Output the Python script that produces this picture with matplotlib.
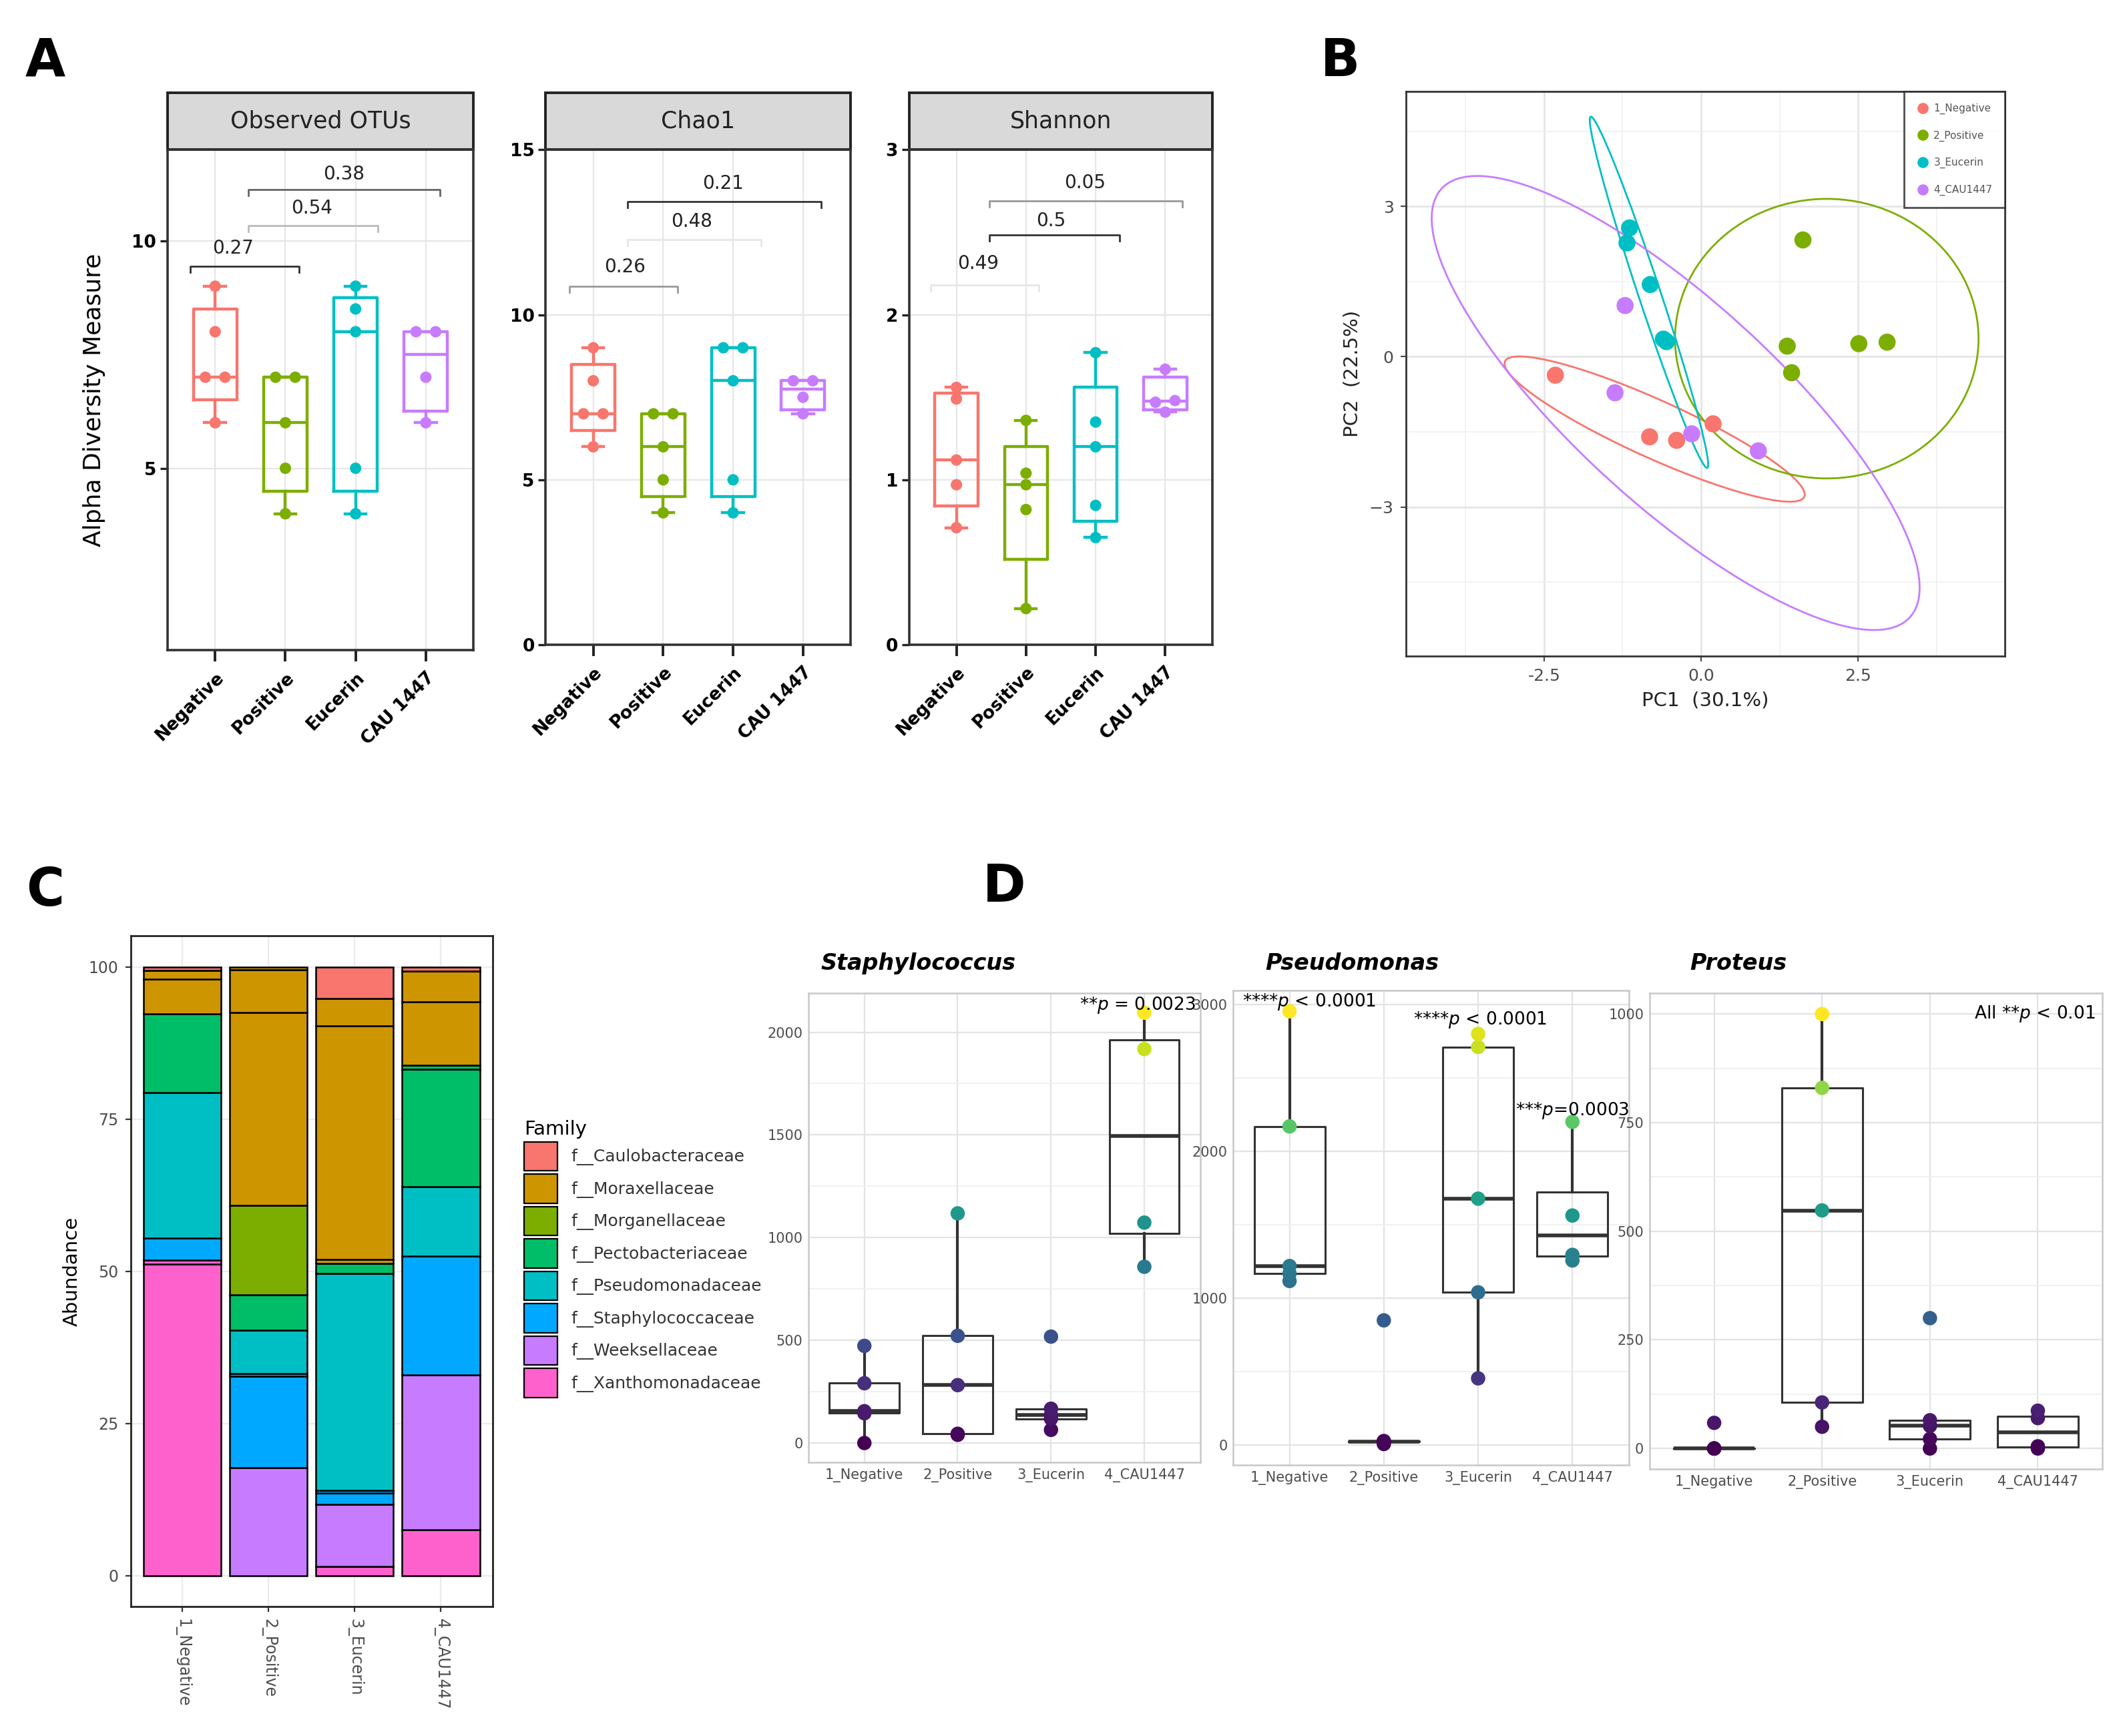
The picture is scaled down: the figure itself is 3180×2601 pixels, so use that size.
import numpy as np
import matplotlib.pyplot as plt
from matplotlib.patches import Ellipse, Rectangle, Patch
from matplotlib.lines import Line2D

# ---------------- data ----------------
groups_a = ['Negative', 'Positive', 'Eucerin', 'CAU 1447']
hue4 = ['#F8766D', '#7CAE00', '#00BFC4', '#C77CFF']

obs_otus = [[6, 7, 7, 8, 9], [4, 5, 6, 7, 7], [4, 5, 8, 8.5, 9], [6, 7, 8, 8]]
chao1 = [[6, 7, 7, 8, 9], [4, 5, 6, 7, 7], [4, 5, 8, 9, 9], [7, 7.5, 8, 8]]
shannon = [[0.71, 0.97, 1.12, 1.49, 1.56], [0.22, 0.82, 0.97, 1.04, 1.36],
           [0.65, 0.845, 1.20, 1.35, 1.77], [1.41, 1.47, 1.48, 1.67]]

# PCA scores
pca_groups = ['1_Negative', '2_Positive', '3_Eucerin', '4_CAU1447']
neg_pc1 = [-2.32, -0.82, -0.39, 0.19]
neg_pc2 = [-0.37, -1.60, -1.67, -1.34]
pos_pc1 = [1.62, 1.37, 1.44, 2.51, 2.96]
pos_pc2 = [2.33, 0.21, -0.32, 0.26, 0.29]
euc_pc1 = [-1.14, -1.18, -0.81, -0.60, -0.55]
euc_pc2 = [2.57, 2.27, 1.44, 0.35, 0.30]
cau_pc1 = [-1.21, -1.37, -0.15, 0.91]
cau_pc2 = [1.02, -0.72, -1.54, -1.88]
# confidence ellipses (center x, center y, semi-major, semi-minor, angle)
ell_cx = [-0.74, 2.0, -0.83, -0.405]
ell_cy = [-1.445, 0.36, 1.285, -0.925]
ell_a = [2.74, 2.79, 3.625, 5.69]
ell_b = [0.55, 2.415, 0.18, 1.8]
ell_ang = [-30, 90, -75.2, 129.6]

# family abundance (segments from bottom to top)
families = ['f__Caulobacteraceae', 'f__Moraxellaceae', 'f__Morganellaceae',
            'f__Pectobacteriaceae', 'f__Pseudomonadaceae', 'f__Staphylococcaceae',
            'f__Weeksellaceae', 'f__Xanthomonadaceae']
fam_colors = ['#F8766D', '#CD9600', '#7CAE00', '#00BE67', '#00BFC4', '#00A9FF',
              '#C77CFF', '#FF61CC']
samples_c = ['1_Negative', '2_Positive', '3_Eucerin', '4_CAU1447']
neg_fam = [7, 7, 5, 4, 3, 1, 1, 0]
neg_val = [51.2, 0.7, 3.6, 23.9, 12.9, 5.7, 1.4, 0.6]
pos_fam = [6, 5, 5, 4, 3, 2, 1, 1, 1]
pos_val = [17.8, 15.0, 0.4, 7.1, 5.9, 14.6, 31.7, 7.1, 0.4]
euc_fam = [7, 6, 5, 5, 4, 3, 1, 1, 1, 0]
euc_val = [1.5, 10.2, 1.9, 0.4, 35.7, 1.6, 0.7, 38.3, 4.5, 5.2]
cau_fam = [7, 6, 5, 4, 3, 3, 1, 1, 0]
cau_val = [7.5, 25.5, 19.5, 11.4, 19.3, 0.7, 10.4, 5.0, 0.7]

# genus counts
groups_d = ['1_Negative', '2_Positive', '3_Eucerin', '4_CAU1447']
staph = [[0, 145, 155, 291, 473], [40, 45, 282, 522, 1118],
         [64, 118, 136, 167, 518], [858, 1073, 1918, 2095]]
pseudo = [[1115, 1166, 1217, 2168, 2952], [5, 20, 23, 25, 847],
          [452, 1038, 1676, 2709, 2798], [1255, 1293, 1561, 2199]]
proteus = [[0, 0, 0, 0, 59], [50, 106, 548, 830, 1000],
           [0, 22, 52, 65, 300], [0, 5, 70, 87]]


# ---------------- helpers ----------------
W, H = 1560, 1276


def rect(x0, y0, x1, y1):
    return [x0 / W, 1 - y1 / H, (x1 - x0) / W, (y1 - y0) / H]


def box_stats(vals, method):
    v = np.sort(np.array(vals, float))
    q1, med, q3 = np.percentile(v, [25, 50, 75], method=method)
    iqr = q3 - q1
    lo = v[v >= q1 - 1.5 * iqr].min()
    hi = v[v <= q3 + 1.5 * iqr].max()
    return dict(q1=q1, med=med, q3=q3, whislo=lo, whishi=hi, fliers=[])


def spread(vals, tol):
    vals = np.array(vals, float)
    offs = np.zeros(len(vals))
    done = np.zeros(len(vals), bool)
    for i in range(len(vals)):
        if done[i]:
            continue
        idx = [j for j in range(len(vals)) if not done[j] and abs(vals[j] - vals[i]) <= tol]
        for j in idx:
            done[j] = True
        if len(idx) > 1:
            offs[idx] = np.linspace(-0.14, 0.14, len(idx))
    return offs


fig = plt.figure(figsize=(15.9, 13.005), dpi=200)

# ---------------- panel A ----------------
def alpha_panel(ax, data, ylim, yticks, title, brackets):
    for i, vals in enumerate(data):
        st = box_stats(vals, 'weibull')
        c = hue4[i]
        ax.bxp([st], positions=[i + 1], widths=0.62, capwidths=0.3, showfliers=False,
               boxprops=dict(color=c, lw=1.6), medianprops=dict(color=c, lw=1.6),
               whiskerprops=dict(color=c, lw=1.6), capprops=dict(color=c, lw=1.6))
        offs = spread(vals, 0.015 * (ylim[1] - ylim[0]))
        ax.scatter(np.full(len(vals), i + 1.0) + offs, vals, s=38, color=c, zorder=3,
                   edgecolors='none')
    h = 0.012 * (ylim[1] - ylim[0])
    for x0, x1, y, lab, col, lx, ly in brackets:
        ax.plot([x0, x0, x1, x1], [y - h, y, y, y - h], color=col, lw=1.0)
        ax.text(lx, ly, lab, ha='center', va='center', fontsize=10, color='#222222')
    ax.set_xlim(0.32, 4.68)
    ax.set_ylim(*ylim)
    ax.set_yticks(yticks)
    ax.set_yticklabels([str(t) for t in yticks], fontweight='bold', fontsize=9.5)
    ax.set_xticks([1, 2, 3, 4])
    ax.set_xticklabels(groups_a, rotation=45, ha='right', rotation_mode='anchor',
                       fontweight='bold', fontsize=9.5)
    ax.tick_params(axis='x', length=6, width=1.4, color='#222222', pad=4)
    ax.tick_params(axis='y', length=4, width=1.2, color='#222222', pad=2)
    ax.grid(True, color='#E6E6E6', lw=0.8)
    ax.set_axisbelow(True)
    for s in ax.spines.values():
        s.set_color('#333333')
        s.set_linewidth(1.3)
    sh = 42 / ((ax.get_position().height) * H)
    ax.add_patch(Rectangle((0, 1), 1, sh, transform=ax.transAxes, clip_on=False,
                           facecolor='#D9D9D9', edgecolor='#222222', lw=1.4))
    ax.text(0.5, 1 + sh / 2, title, transform=ax.transAxes, ha='center', va='center',
            fontsize=12.5, color='#222222')


ax_obs = fig.add_axes(rect(123, 110, 348, 478))
alpha_panel(ax_obs, obs_otus, (1, 12), [5, 10], 'Observed OTUs',
            [(0.65, 2.2, 9.44, '0.27', '#333333', 1.25, 9.83),
             (1.47, 3.32, 10.33, '0.54', '#BBBBBB', 2.38, 10.72),
             (1.47, 4.2, 11.13, '0.38', '#666666', 2.83, 11.46)])
ax_obs.set_ylabel('Alpha Diversity Measure', fontsize=13, labelpad=14)

ax_chao = fig.add_axes(rect(401, 110, 625, 474))
alpha_panel(ax_chao, chao1, (0, 15), [0, 5, 10, 15], 'Chao1',
            [(0.66, 2.21, 10.86, '0.26', '#999999', 1.45, 11.44),
             (1.49, 3.4, 12.27, '0.48', '#E6E6E6', 2.41, 12.82),
             (1.49, 4.26, 13.43, '0.21', '#333333', 2.86, 13.98)])

ax_sha = fig.add_axes(rect(668, 110, 891, 474))
alpha_panel(ax_sha, shannon, (0, 3), [0, 1, 2, 3], 'Shannon',
            [(0.63, 2.18, 2.18, '0.49', '#E6E6E6', 1.31, 2.31),
             (1.47, 3.34, 2.485, '0.5', '#333333', 2.36, 2.57),
             (1.47, 4.25, 2.69, '0.05', '#999999', 2.85, 2.80)])

# ---------------- panel B ----------------
ax_b = fig.add_axes(rect(1033, 67, 1473, 482))
pcx = [neg_pc1, pos_pc1, euc_pc1, cau_pc1]
pcy = [neg_pc2, pos_pc2, euc_pc2, cau_pc2]
for i in range(4):
    ax_b.add_patch(Ellipse((ell_cx[i], ell_cy[i]), 2 * ell_a[i], 2 * ell_b[i],
                           angle=ell_ang[i], fill=False, edgecolor=hue4[i], lw=1.0, zorder=2))
for i in range(4):
    ax_b.scatter(pcx[i], pcy[i], s=85, color=hue4[i], edgecolors='none', zorder=3)
ax_b.set_xlim(-4.70, 4.83)
ax_b.set_ylim(-5.97, 5.30)
ax_b.set_xticks([-2.5, 0, 2.5])
ax_b.set_xticklabels(['-2.5', '0.0', '2.5'])
ax_b.set_yticks([-3, 0, 3])
ax_b.set_xticks([-3.75, -1.25, 1.25, 3.75], minor=True)
ax_b.set_yticks([-4.5, -1.5, 1.5, 4.5], minor=True)
ax_b.grid(True, which='major', color='#E3E3E3', lw=0.9)
ax_b.grid(True, which='minor', color='#F0F0F0', lw=0.6)
ax_b.set_axisbelow(True)
ax_b.tick_params(which='major', labelsize=9, labelcolor='#4D4D4D', color='#4D4D4D', length=3)
ax_b.tick_params(which='minor', length=0)
for s in ax_b.spines.values():
    s.set_color('#333333')
    s.set_linewidth(1.0)
ax_b.set_xlabel('PC1  (30.1%)', fontsize=10.5, color='#222222')
ax_b.set_ylabel('PC2  (22.5%)', fontsize=10.5, color='#222222')
hb = [Line2D([], [], marker='o', ls='none', color=hue4[i], markersize=5) for i in range(4)]
leg_b = ax_b.legend(hb, pca_groups, loc='upper right', borderaxespad=0, fontsize=5.5,
                    frameon=True, fancybox=False, edgecolor='#222222', labelspacing=1.6,
                    borderpad=1.2, handletextpad=0.5, handlelength=1.2)
leg_b.get_frame().set_linewidth(1.0)
for t in leg_b.get_texts():
    t.set_color('#555555')

# ---------------- panel C ----------------
ax_c = fig.add_axes(rect(96, 688, 362, 1181))
seg_fam = [neg_fam, pos_fam, euc_fam, cau_fam]
seg_val = [neg_val, pos_val, euc_val, cau_val]
for i in range(4):
    bottom = 0.0
    for f, v in zip(seg_fam[i], seg_val[i]):
        ax_c.bar(i + 1, v, bottom=bottom, width=0.9, color=fam_colors[f],
                 edgecolor='black', lw=0.9)
        bottom += v
ax_c.set_xlim(0.4, 4.6)
ax_c.set_ylim(-5.1, 105.1)
ax_c.set_yticks([0, 25, 50, 75, 100])
ax_c.set_xticks([1, 2, 3, 4])
ax_c.set_xticklabels(samples_c, rotation=-90, ha='center', va='top')
ax_c.tick_params(labelsize=8.5, labelcolor='#4D4D4D', color='#333333', length=3)
ax_c.grid(True, color='#EBEBEB', lw=0.8)
ax_c.set_axisbelow(True)
for s in ax_c.spines.values():
    s.set_color('#222222')
    s.set_linewidth(1.0)
ax_c.set_ylabel('Abundance', fontsize=10.5)
hc = [Patch(facecolor=fam_colors[i], edgecolor='black', lw=0.8) for i in range(8)]
leg_c = fig.legend(hc, families, loc='upper left', bbox_to_anchor=(374 / W, 1 - 812 / H),
                   frameon=False, title='Family', fontsize=9, title_fontsize=10.5,
                   handlelength=2.0, handleheight=2.3, labelspacing=0.2,
                   handletextpad=0.8, alignment='left')
for t in leg_c.get_texts():
    t.set_color('#333333')

# ---------------- panel D ----------------
def genus_panel(ax, data, ylim, major, minor, title, tx):
    vmax = max(max(v) for v in data)
    for i, vals in enumerate(data):
        st = box_stats(vals, 'linear')
        ax.bxp([st], positions=[i + 1], widths=0.75, showcaps=False, showfliers=False,
               boxprops=dict(color='#333333', lw=1.1),
               medianprops=dict(color='#333333', lw=2.0),
               whiskerprops=dict(color='#333333', lw=1.5))
        cols = plt.cm.viridis(np.array(vals, float) / vmax)
        ax.scatter(np.full(len(vals), i + 1.0), vals, s=60, color=cols, zorder=3,
                   edgecolors='none')
    ax.set_xlim(0.4, 4.6)
    ax.set_ylim(*ylim)
    ax.set_yticks(major)
    ax.set_yticks(minor, minor=True)
    ax.set_xticks([1, 2, 3, 4])
    ax.set_xticklabels(groups_d)
    ax.tick_params(which='both', length=0, labelsize=7.5, labelcolor='#4D4D4D', pad=3)
    ax.grid(True, which='major', color='#E3E3E3', lw=0.8)
    ax.grid(True, which='minor', axis='y', color='#EFEFEF', lw=0.6)
    ax.set_axisbelow(True)
    for s in ax.spines.values():
        s.set_color('#C8C8C8')
        s.set_linewidth(0.9)
    fig.text(tx / W, 1 - 708 / H, title, fontsize=12, style='italic', va='center',
             ha='left', fontweight='semibold')


ax_st = fig.add_axes(rect(594, 730, 882, 1075))
genus_panel(ax_st, staph, (-95, 2190), [0, 500, 1000, 1500, 2000],
            [250, 750, 1250, 1750], 'Staphylococcus', 603)
ax_st.text(4.55, 2131, r'**$p$ = 0.0023', ha='right', va='center', fontsize=9.5)

ax_ps = fig.add_axes(rect(906, 728, 1197, 1077))
genus_panel(ax_ps, pseudo, (-140, 3094), [0, 1000, 2000, 3000],
            [500, 1500, 2500], 'Pseudomonas', 930)
ax_ps.text(0.5, 3015, r'****$p$ < 0.0001', ha='left', va='center', fontsize=9.5)
ax_ps.text(2.31, 2895, r'****$p$ < 0.0001', ha='left', va='center', fontsize=9.5)
ax_ps.text(4.6, 2275, r'***$p$=0.0003', ha='right', va='center', fontsize=9.5)

ax_pr = fig.add_axes(rect(1212, 730, 1545, 1080))
genus_panel(ax_pr, proteus, (-48, 1048), [0, 250, 500, 750, 1000],
            [125, 375, 625, 875], 'Proteus', 1242)
ax_pr.text(4.53, 1000, r'All **$p$ < 0.01', ha='right', va='center', fontsize=9.5)

# ---------------- panel letters ----------------
for lab, x, y in [('A', 33, 45), ('B', 985, 45), ('C', 33, 655), ('D', 738, 652)]:
    fig.text(x / W, 1 - y / H, lab, fontsize=28, fontweight='bold', ha='center', va='center')

fig.savefig('out.png', dpi=200)
